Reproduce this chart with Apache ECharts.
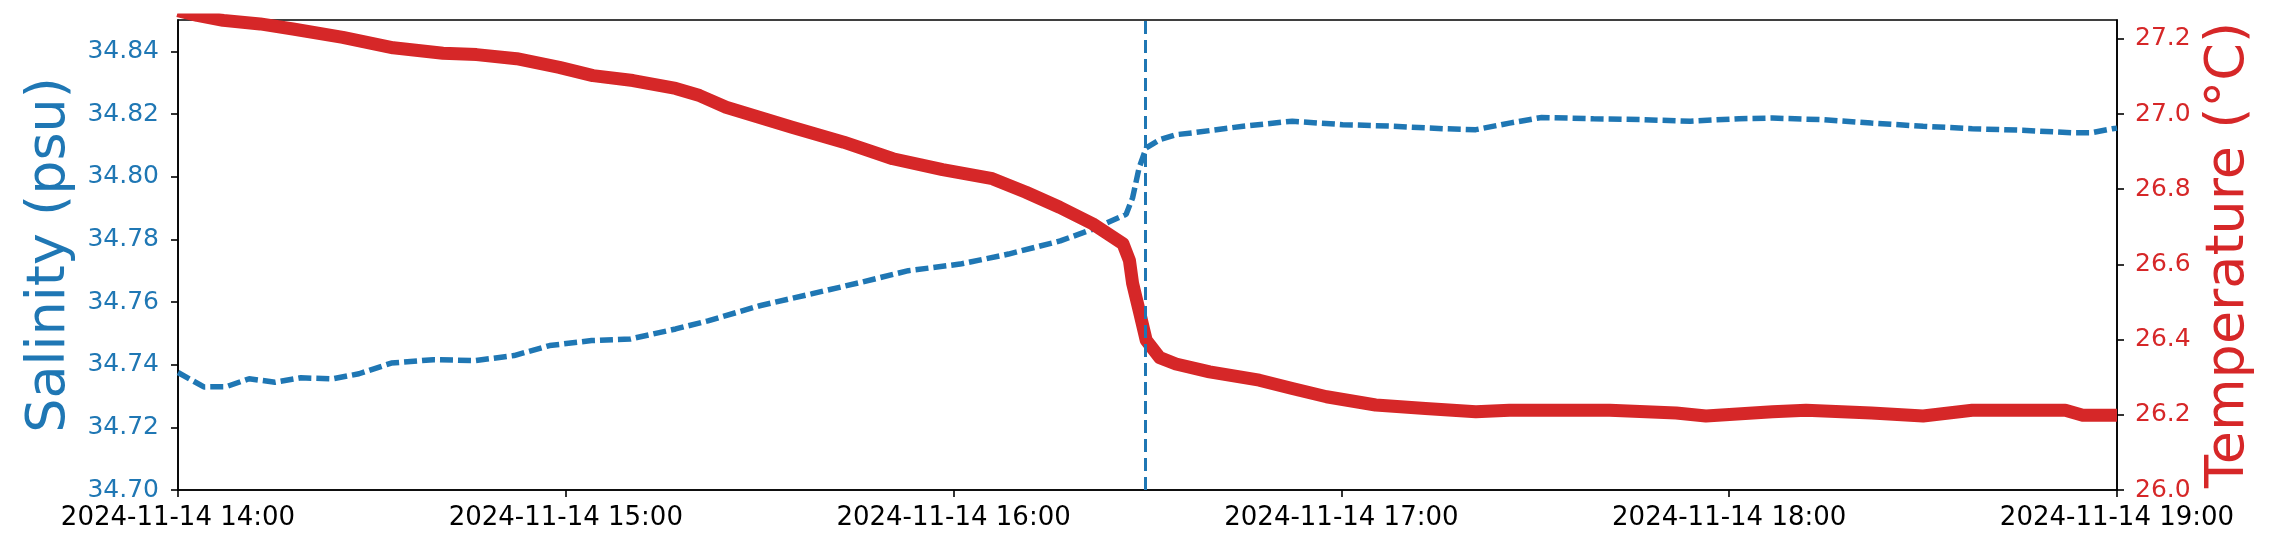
<!DOCTYPE html>
<html>
<head>
<meta charset="utf-8">
<script src="https://cdn.jsdelivr.net/npm/echarts@6/dist/echarts.min.js"></script>
<style>
html,body{margin:0;padding:0;background:#fff;}
#chart{width:2275px;height:554px;}
</style>
</head>
<body>
<div id="chart"></div>
<script>
// Time base: 2024-11-14 14:00; offsets in minutes
const baseDate = [2024, 10, 14, 14, 0];

// Salinity (psu)
const salMinutes = [0, 4, 7.5, 11, 15, 19, 24, 28, 33, 39.5, 46, 52, 57.5, 64, 70, 77, 82, 90, 98, 105.5,
  113, 121, 128.5, 136.5, 141.5, 146.7, 147.7, 148.7, 149.8, 151.9, 154.4, 157, 164.8, 172.4, 180.2, 188,
  195.7, 200.8, 206, 211, 219, 226.6, 234, 241.5, 246.7, 254.4, 262, 270, 277.6, 285.4, 293, 296, 299.3, 300];
const salValues = [34.7375, 34.7329, 34.7330, 34.7355, 34.7344, 34.7358, 34.7355, 34.7371, 34.7405, 34.7416,
  34.7413, 34.7429, 34.7461, 34.7477, 34.7482, 34.7514, 34.7540, 34.7588, 34.7626, 34.7662,
  34.7700, 34.7721, 34.7753, 34.7795, 34.7832, 34.7880, 34.7933, 34.8028, 34.8092, 34.8118,
  34.8134, 34.8140, 34.8161, 34.8177, 34.8166, 34.8161, 34.8153, 34.8150, 34.8171, 34.8189,
  34.8185, 34.8182, 34.8177, 34.8185, 34.8187, 34.8182, 34.8171, 34.8161, 34.8153, 34.8148,
  34.8140, 34.8140, 34.8153, 34.8155];

// Temperature (°C)
const tempMinutes = [0, 3, 7, 12.7, 17.8, 25.5, 33.3, 41, 46.2, 52.4, 59, 64.2, 70.4, 77, 80.7, 84.8, 95, 103,
  110.6, 118.3, 126, 131.2, 136.4, 141.5, 146.2, 147.2, 147.7, 148.7, 149.8, 151.9, 154.4, 159.6, 167.3,
  172.4, 177.7, 185.3, 193, 200.8, 206, 213.7, 221.5, 231.8, 236.4, 246.7, 251.9, 262, 270, 277.6, 288,
  292, 294.7, 300];
const tempValues = [27.275, 27.262, 27.249, 27.2395, 27.226, 27.204, 27.176, 27.1615, 27.158, 27.147,
  27.124, 27.102, 27.089, 27.068, 27.049, 27.018, 26.965, 26.925, 26.881, 26.852, 26.828, 26.792,
  26.752, 26.708, 26.655, 26.611, 26.549, 26.478, 26.398, 26.352, 26.335, 26.314, 26.292, 26.270,
  26.248, 26.226, 26.217, 26.208, 26.212, 26.212, 26.212, 26.205, 26.197, 26.208, 26.212, 26.205,
  26.197, 26.212, 26.212, 26.212, 26.199, 26.199];

// Event marker (minutes after 14:00)
const eventMinute = 149.6;

const salTicks = {min: 34.70, max: 34.85, interval: 0.02};
const tempTicks = {min: 26.0, max: 27.25, interval: 0.2};

const base = Date.UTC(baseDate[0], baseDate[1], baseDate[2], baseDate[3], baseDate[4]);
const toT = m => base + m * 60000;
const salData = salMinutes.map((m, i) => [toT(m), salValues[i]]);
const tempData = tempMinutes.map((m, i) => [toT(m), tempValues[i]]);
const pad = n => String(n).padStart(2, '0');
const fmtTime = v => {
  const d = new Date(v);
  return d.getUTCFullYear() + '-' + pad(d.getUTCMonth() + 1) + '-' + pad(d.getUTCDate()) + ' ' +
    pad(d.getUTCHours()) + ':' + pad(d.getUTCMinutes());
};

const BLUE = '#1f77b4', RED = '#d62728';
const FONT = 'DejaVu Sans';
const axisLineStyle = {color: '#000', width: 1.6};

const chart = echarts.init(document.getElementById('chart'), null, {renderer: 'canvas'});
chart.setOption({
  animation: false,
  backgroundColor: '#fff',
  grid: {left: 178, right: 158, top: 20, bottom: 64, show: true, borderColor: '#000', borderWidth: 1.6, backgroundColor: 'transparent'},
  xAxis: {
    type: 'value',
    min: toT(0), max: toT(300), interval: 3600000,
    splitLine: {show: false},
    axisLine: {show: true, lineStyle: axisLineStyle},
    axisTick: {show: true, length: 7, lineStyle: axisLineStyle},
    axisLabel: {formatter: fmtTime, fontFamily: FONT, fontSize: 26, color: '#000', margin: 15}
  },
  yAxis: [{
    type: 'value', position: 'left',
    min: salTicks.min, max: salTicks.max, interval: salTicks.interval,
    name: 'Salinity (psu)', nameLocation: 'middle', nameRotate: 90, nameGap: 98,
    nameTextStyle: {fontFamily: FONT, fontSize: 54, color: BLUE},
    splitLine: {show: false},
    axisLine: {show: true, lineStyle: axisLineStyle},
    axisTick: {show: true, length: 7, lineStyle: axisLineStyle},
    axisLabel: {showMaxLabel: false, formatter: v => v.toFixed(2), fontFamily: FONT, fontSize: 25, color: BLUE, margin: 19}
  }, {
    type: 'value', position: 'right',
    min: tempTicks.min, max: tempTicks.max, interval: tempTicks.interval,
    name: 'Temperature (°C)', nameLocation: 'middle', nameRotate: 90, nameGap: 82,
    nameTextStyle: {fontFamily: FONT, fontSize: 54, color: RED},
    splitLine: {show: false},
    axisLine: {show: true, lineStyle: axisLineStyle},
    axisTick: {show: true, length: 7, lineStyle: axisLineStyle},
    axisLabel: {showMaxLabel: false, formatter: v => v.toFixed(1), fontFamily: FONT, fontSize: 25, color: RED, margin: 18}
  }],
  series: [{
    name: 'Salinity', type: 'line', yAxisIndex: 0, data: salData,
    showSymbol: false, smooth: false, z: 2,
    lineStyle: {color: BLUE, width: 5.5, type: [13, 5], cap: 'butt'},
    markLine: {
      silent: true, symbol: 'none', label: {show: false},
      lineStyle: {color: BLUE, width: 3, type: [13, 6]},
      data: [{xAxis: toT(eventMinute)}]
    }
  }, {
    name: 'Temperature', type: 'line', yAxisIndex: 1, data: tempData,
    showSymbol: false, smooth: false, z: 3,
    lineStyle: {color: RED, width: 13, cap: 'butt', join: 'round'}
  }]
});
</script>
</body>
</html>
